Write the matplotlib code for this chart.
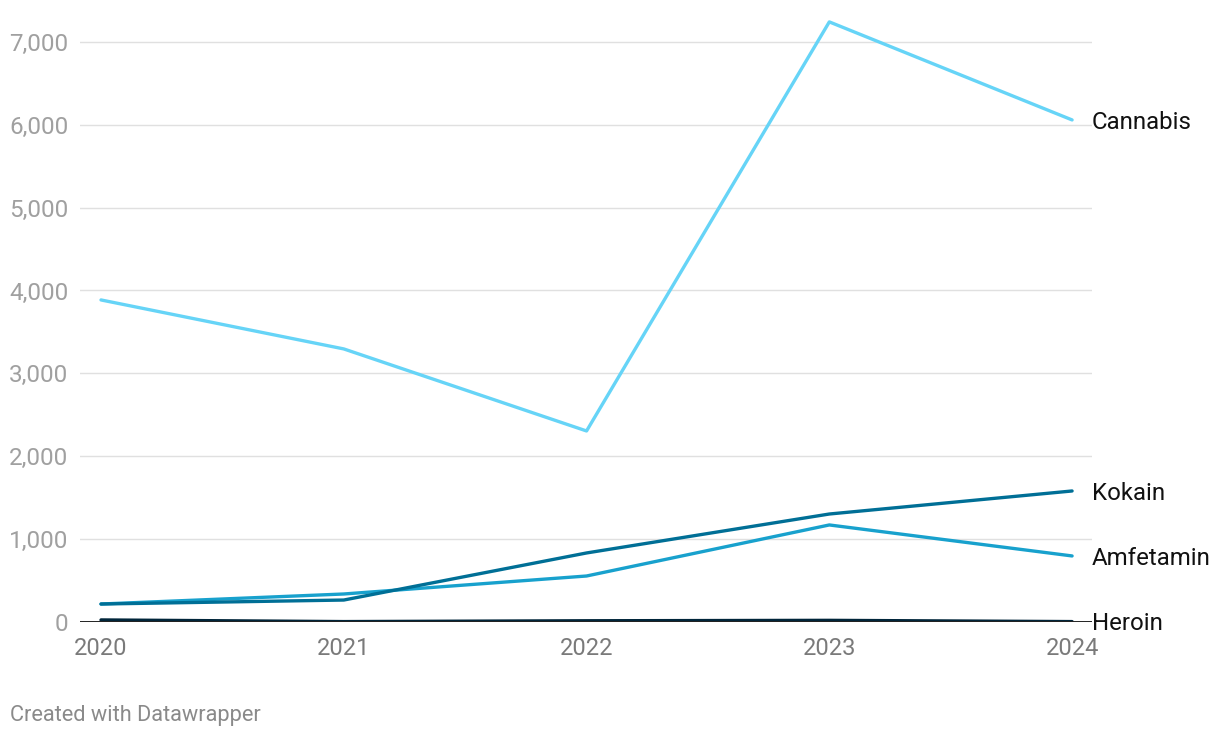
import matplotlib.pyplot as plt

plt.rcParams['font.family'] = ['Roboto', 'DejaVu Sans']

years = [2020, 2021, 2022, 2023, 2024]
cannabis = [3886, 3295, 2305, 7241, 6058]
kokain = [217, 265, 833, 1303, 1581]
amfetamin = [217, 338, 555, 1171, 797]
heroin = [25, 5, 15, 20, 5]

series = [
    ("Cannabis", cannabis, "#66d4f7"),
    ("Amfetamin", amfetamin, "#18a1cd"),
    ("Kokain", kokain, "#006f96"),
    ("Heroin", heroin, "#00253a"),
]
yticks = [0, 1000, 2000, 3000, 4000, 5000, 6000, 7000]

fig = plt.figure(figsize=(12.2, 7.38), dpi=100)
ax = fig.add_axes([80 / 1220, 1 - 622 / 738, 1012 / 1220, 605 / 738])
ax.set_xlim(2020 - 0.0865, 2024 + 0.082)
ax.set_ylim(0, 7300)

for y in yticks[1:]:
    ax.axhline(y, color="#e0e0e0", lw=1, zorder=1)
ax.axhline(0, color="#222222", lw=1.4, zorder=4)

for name, vals, col in series:
    ax.plot(years, vals, color=col, lw=2.4, zorder=3, solid_capstyle="round")
    ax.annotate(name, xy=(1.0, vals[-1]), xycoords=("axes fraction", "data"),
                xytext=(0, -1.5), textcoords="offset points",
                ha="left", va="center", fontsize=17.3, color="#111111",
                annotation_clip=False)

for s in ax.spines.values():
    s.set_visible(False)

ax.set_yticks(yticks)
ax.set_yticklabels([f"{v:,}" for v in yticks])
ax.set_xticks(years)
ax.set_xticklabels([str(y) for y in years])
ax.tick_params(axis="y", length=0, pad=8.5, labelsize=17.5, labelcolor="#a0a0a0")
ax.tick_params(axis="x", length=0, pad=11, labelsize=17, labelcolor="#7a7a7a")

fig.text(10 / 1220, 1 - 715 / 738, "Created with Datawrapper", fontsize=15.7,
         color="#8a8a8a", ha="left", va="center")

fig.savefig("out.png", dpi=100)
